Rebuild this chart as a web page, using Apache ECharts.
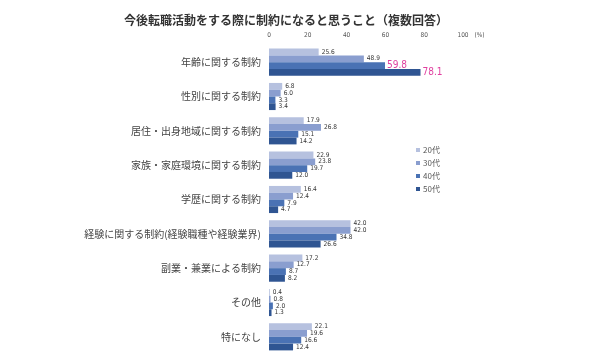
<!DOCTYPE html>
<html><head><meta charset="utf-8">
<script src="https://cdn.jsdelivr.net/npm/echarts@6/dist/echarts.min.js"></script>
<style>html,body{margin:0;padding:0;background:#fff}#c{width:590px;height:360px}</style>
</head><body><div id="c"></div>
<script>
const categories = ["年齢に関する制約","性別に関する制約","居住・出身地域に関する制約","家族・家庭環境に関する制約","学歴に関する制約","経験に関する制約(経験職種や経験業界)","副業・兼業による制約","その他","特になし"];
const seriesNames = ["20代","30代","40代","50代"];
const v20 = [25.6, 6.8, 17.9, 22.9, 16.4, 42.0, 17.2, 0.4, 22.1];
const v30 = [48.9, 6.0, 26.8, 23.8, 12.4, 42.0, 12.7, 0.8, 19.6];
const v40 = [59.8, 3.3, 15.1, 19.7, 7.9, 34.8, 8.7, 2.0, 16.6];
const v50 = [78.1, 3.4, 14.2, 12.0, 4.7, 26.6, 8.2, 1.3, 12.4];
const xTicks = [0, 20, 40, 60, 80, 100];
const colors = ["#b6c1df","#8a9ecf","#4a72b4","#2f5592"];
const highlightThreshold = 50;

const all = [v20, v30, v40, v50];
const chart = echarts.init(document.getElementById('c'));
const series = all.map((arr, i) => ({
  name: seriesNames[i],
  type: 'bar',
  barGap: '0%',
  barCategoryGap: '21%',
  itemStyle: { color: colors[i] },
  data: arr.map(v => v >= highlightThreshold ? {
    value: v,
    label: { color: '#e040a0', fontSize: 10, fontFamily: 'DejaVu Sans Condensed', distance: 2 }
  } : v),
  label: {
    show: true, position: 'right', distance: 3,
    fontSize: 6.5, color: '#333', fontFamily: 'DejaVu Sans Condensed',
    formatter: p => Number(p.value).toFixed(1)
  }
}));
chart.setOption({
  animation: false,
  title: {
    text: '今後転職活動をする際に制約になると思うこと（複数回答）',
    left: 281, top: 9, textAlign: 'center',
    textStyle: { fontSize: 12, fontWeight: 'bold', color: '#333', fontFamily: 'Noto Sans CJK JP' }
  },
  legend: {
    orient: 'vertical', left: 411, top: 141,
    itemWidth: 4, itemHeight: 4, itemGap: 5, icon: 'rect',
    textStyle: { fontSize: 8, color: '#555', fontFamily: 'Noto Sans CJK JP', padding: [0,0,0,-2] },
    data: seriesNames
  },
  grid: { left: 269, right: 127, top: 45, bottom: 6, containLabel: false },
  xAxis: {
    type: 'value', position: 'top', min: xTicks[0], max: xTicks[xTicks.length-1], interval: 20,
    name: '(%)', nameLocation: 'end', nameGap: 8,
    nameTextStyle: { fontSize: 6.5, color: '#555', fontFamily: 'DejaVu Sans Condensed', verticalAlign: 'bottom', padding: [0,0,6,0] },
    axisLine: { show: false }, axisTick: { show: false }, splitLine: { show: false },
    axisLabel: { fontSize: 6.5, color: '#555', margin: 6, fontFamily: 'DejaVu Sans Condensed' }
  },
  yAxis: {
    type: 'category', inverse: true, data: categories,
    axisLine: { show: false }, axisTick: { show: false },
    axisLabel: { fontSize: 10, color: '#444', margin: 8, fontFamily: 'Noto Sans CJK JP' }
  },
  series
});
</script></body></html>
